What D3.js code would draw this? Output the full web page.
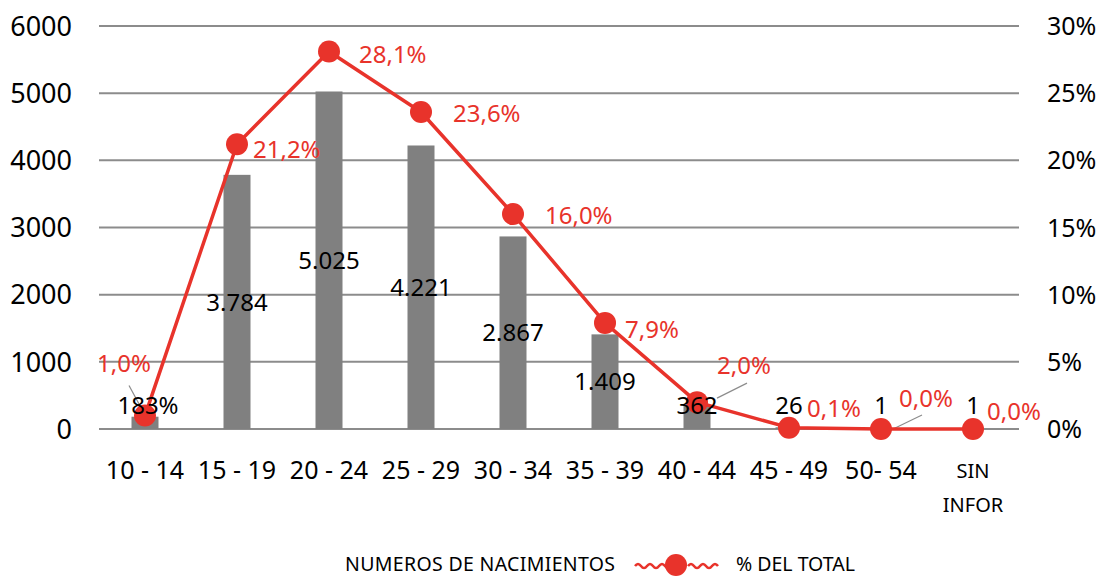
<!DOCTYPE html>
<html>
<head>
<meta charset="utf-8">
<script src="https://cdn.jsdelivr.net/npm/d3@7"></script>
<style>
  body { margin: 0; background: #fff; }
  svg { font-family: "Noto Sans", "Open Sans", sans-serif; }
</style>
</head>
<body>
<div id="chart"></div>
<script>
const categories = ["10 - 14", "15 - 19", "20 - 24", "25 - 29", "30 - 34", "35 - 39", "40 - 44", "45 - 49", "50- 54", "SIN INFOR"];
const births = [183, 3784, 5025, 4221, 2867, 1409, 362, 26, 1, 1];
const birthLabels = ["183%", "3.784", "5.025", "4.221", "2.867", "1.409", "362", "26", "1", "1"];
const pct = [1.0, 21.2, 28.1, 23.6, 16.0, 7.9, 2.0, 0.1, 0.0, 0.0];
const pctLabels = ["1,0%", "21,2%", "28,1%", "23,6%", "16,0%", "7,9%", "2,0%", "0,1%", "0,0%", "0,0%"];
const leftTicks = [0, 1000, 2000, 3000, 4000, 5000, 6000];
const rightTicks = [0, 5, 10, 15, 20, 25, 30];

// manual label nudges (as in the original, labels were dragged around)
const pctOffsets = [[-48, -52], [16, 5], [30, 3], [32, 1], [32, 1], [20, 6], [20, -37], [18, -19], [18, -31], [14, -18]];

const width = 1102, height = 577;
const plotL = 99, plotR = 1019, plotT = 26, plotB = 429;
const red = "#e8332b", grey = "#808080";

const svg = d3.select("#chart").append("svg")
  .attr("width", width)
  .attr("height", height);

const x = d3.scaleBand().domain(categories).range([plotL, plotR]);
const y = d3.scaleLinear().domain([0, 6000]).range([plotB, plotT]);
const y2 = d3.scaleLinear().domain([0, 30]).range([plotB, plotT]);
const cx = d => x(d) + x.bandwidth() / 2;

// grid
svg.append("g")
  .selectAll("line")
  .data(leftTicks)
  .join("line")
  .attr("x1", plotL).attr("x2", plotR)
  .attr("y1", d => y(d)).attr("y2", d => y(d))
  .attr("stroke", "#8c8c8c")
  .attr("stroke-width", 2);

// left axis labels
svg.append("g")
  .selectAll("text")
  .data(leftTicks)
  .join("text")
  .attr("x", 72)
  .attr("y", d => y(d))
  .attr("dy", "0.36em")
  .attr("text-anchor", "end")
  .style("font-size", "27px")
  .text(d => d);

// right axis labels
svg.append("g")
  .selectAll("text")
  .data(rightTicks)
  .join("text")
  .attr("x", 1047)
  .attr("y", d => y2(d))
  .attr("dy", "0.36em")
  .style("font-size", "25px")
  .text(d => d + "%");

// bars
const barW = 27;
svg.append("g")
  .selectAll("rect")
  .data(births)
  .join("rect")
  .attr("x", (d, i) => cx(categories[i]) - barW / 2)
  .attr("y", d => y(d))
  .attr("width", barW)
  .attr("height", d => plotB - y(d))
  .attr("fill", grey);

// category labels
const cat = svg.append("g")
  .selectAll("text")
  .data(categories)
  .join("text")
  .attr("x", d => cx(d))
  .attr("y", 479)
  .attr("text-anchor", "middle")
  .style("font-size", "25px");
cat.each(function (d) {
  const t = d3.select(this);
  if (d === "SIN INFOR") {
    t.style("font-size", "20px");
    t.append("tspan").attr("x", cx(d)).attr("y", 478).text("SIN");
    t.append("tspan").attr("x", cx(d)).attr("y", 512).text("INFOR");
  } else {
    t.text(d);
  }
});

// leader lines
const leaders = svg.append("g").attr("stroke", "#8c8c8c").attr("stroke-width", 1.2);
leaders.append("line")
  .attr("x1", cx(categories[0]) - 16).attr("y1", y2(pct[0]) - 30)
  .attr("x2", cx(categories[0]) - 3).attr("y2", y2(pct[0]) - 6);
leaders.append("line")
  .attr("x1", cx(categories[6]) + 50).attr("y1", y2(pct[6]) - 19)
  .attr("x2", cx(categories[6]) + 20).attr("y2", y2(pct[6]) - 4);
leaders.append("line")
  .attr("x1", cx(categories[8]) + 41).attr("y1", y2(pct[8]) - 14)
  .attr("x2", cx(categories[8]) + 10).attr("y2", y2(pct[8]) + 1);

// line
const line = d3.line()
  .x((d, i) => cx(categories[i]))
  .y(d => y2(d));
svg.append("path")
  .datum(pct)
  .attr("d", line)
  .attr("fill", "none")
  .attr("stroke", red)
  .attr("stroke-width", 3.5)
  .attr("stroke-linejoin", "round");

svg.append("g")
  .selectAll("circle")
  .data(pct)
  .join("circle")
  .attr("cx", (d, i) => cx(categories[i]))
  .attr("cy", d => y2(d))
  .attr("r", 11)
  .attr("fill", red);

// bar value labels: centred in bar, small ones lifted above
const barLabelY = d => Math.min((y(d) + plotB) / 2, plotB - 24);
svg.append("g")
  .selectAll("text")
  .data(births)
  .join("text")
  .attr("x", (d, i) => cx(categories[i]) + (i === 0 ? 3 : 0))
  .attr("y", d => barLabelY(d))
  .attr("dy", "0.36em")
  .attr("text-anchor", "middle")
  .style("font-size", "24px")
  .text((d, i) => birthLabels[i]);

// pct labels
svg.append("g")
  .selectAll("text")
  .data(pct)
  .join("text")
  .attr("x", (d, i) => cx(categories[i]) + pctOffsets[i][0])
  .attr("y", (d, i) => y2(d) + pctOffsets[i][1])
  .attr("dy", "0.36em")
  .attr("fill", red)
  .style("font-size", "24px")
  .text((d, i) => pctLabels[i]);

// legend
const legend = svg.append("g");
legend.append("text")
  .attr("x", 345).attr("y", 564)
  .attr("dy", "0.36em")
  .style("font-size", "19.5px")
  .attr("textLength", 270)
  .text("NUMEROS DE NACIMIENTOS");
legend.append("path")
  .attr("d", "M635,566 q3,-4 6,0 t6,0 t6,0 t6,0 t6,0 t6,0 M688,566 q3,-4 6,0 t6,0 t6,0 t6,0 t6,0")
  .attr("fill", "none")
  .attr("stroke", red)
  .attr("stroke-width", 2.5);
legend.append("circle")
  .attr("cx", 676).attr("cy", 565)
  .attr("r", 11)
  .attr("fill", red);
legend.append("text")
  .attr("x", 736).attr("y", 564)
  .attr("dy", "0.36em")
  .style("font-size", "19.5px")
  .text("% DEL TOTAL");
</script>
</body>
</html>
